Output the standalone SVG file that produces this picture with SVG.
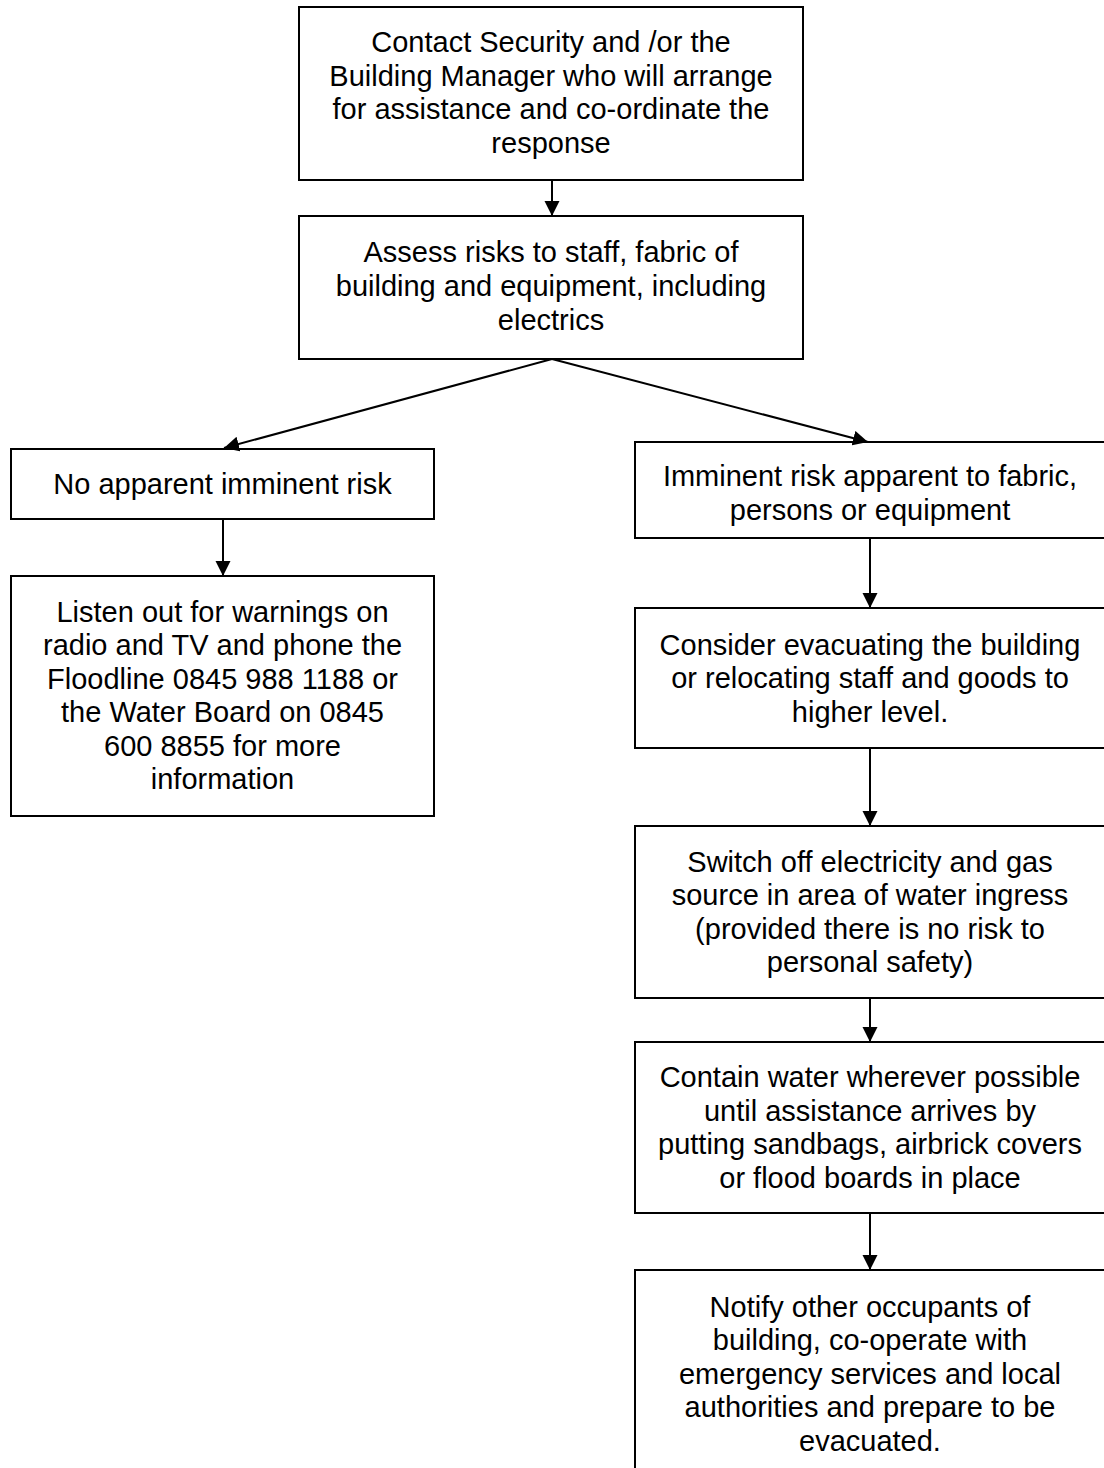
<svg xmlns="http://www.w3.org/2000/svg" width="1104" height="1468" viewBox="0 0 1104 1468">
<style>
.box{fill:#fff;stroke:#000;stroke-width:2}
.t{font-family:"Liberation Sans",Arial,sans-serif;font-size:29px;fill:#000;text-anchor:middle}
.c{stroke:#000;stroke-width:2;fill:none;marker-end:url(#ah)}
</style>
<defs>
<marker id="ah" markerUnits="userSpaceOnUse" markerWidth="16" markerHeight="16" refX="15" refY="7.5" orient="auto">
<path d="M0,0 L15,7.5 L0,15 z" fill="#000"/>
</marker>
</defs>
<rect width="1104" height="1468" fill="#fff"/>
<g id="n1">
<rect class="box" x="299" y="7" width="504" height="173"/>
<text class="t" x="551" y="52">Contact Security and /or the</text>
<text class="t" x="551" y="86">Building Manager who will arrange</text>
<text class="t" x="551" y="119">for assistance and co-ordinate the</text>
<text class="t" x="551" y="153">response</text>
</g>
<g id="n2">
<rect class="box" x="299" y="216" width="504" height="143"/>
<text class="t" x="551" y="262">Assess risks to staff, fabric of</text>
<text class="t" x="551" y="296">building and equipment, including</text>
<text class="t" x="551" y="330">electrics</text>
</g>
<g id="n3">
<rect class="box" x="11" y="449" width="423" height="70"/>
<text class="t" x="222.5" y="494">No apparent imminent risk</text>
</g>
<g id="n4">
<rect class="box" x="11" y="576" width="423" height="240"/>
<text class="t" x="222.5" y="622">Listen out for warnings on</text>
<text class="t" x="222.5" y="655">radio and TV and phone the</text>
<text class="t" x="222.5" y="689">Floodline 0845 988 1188 or</text>
<text class="t" x="222.5" y="722">the Water Board on 0845</text>
<text class="t" x="222.5" y="756">600 8855 for more</text>
<text class="t" x="222.5" y="789">information</text>
</g>
<g id="n5">
<rect class="box" x="635" y="442" width="470" height="96"/>
<text class="t" x="870" y="486">Imminent risk apparent to fabric,</text>
<text class="t" x="870" y="520">persons or equipment</text>
</g>
<g id="n6">
<rect class="box" x="635" y="608" width="470" height="140"/>
<text class="t" x="870" y="655">Consider evacuating the building</text>
<text class="t" x="870" y="688">or relocating staff and goods to</text>
<text class="t" x="870" y="722">higher level.</text>
</g>
<g id="n7">
<rect class="box" x="635" y="826" width="470" height="172"/>
<text class="t" x="870" y="872">Switch off electricity and gas</text>
<text class="t" x="870" y="905">source in area of water ingress</text>
<text class="t" x="870" y="939">(provided there is no risk to</text>
<text class="t" x="870" y="972">personal safety)</text>
</g>
<g id="n8">
<rect class="box" x="635" y="1042" width="470" height="171"/>
<text class="t" x="870" y="1087">Contain water wherever possible</text>
<text class="t" x="870" y="1121">until assistance arrives by</text>
<text class="t" x="870" y="1154">putting sandbags, airbrick covers</text>
<text class="t" x="870" y="1188">or flood boards in place</text>
</g>
<g id="n9">
<rect class="box" x="635" y="1270" width="470" height="210"/>
<text class="t" x="870" y="1317">Notify other occupants of</text>
<text class="t" x="870" y="1350">building, co-operate with</text>
<text class="t" x="870" y="1384">emergency services and local</text>
<text class="t" x="870" y="1417">authorities and prepare to be</text>
<text class="t" x="870" y="1451">evacuated.</text>
</g>
<g id="connectors">
<line class="c" x1="552" y1="180" x2="552" y2="216"/>
<line class="c" x1="552" y1="359" x2="224" y2="448"/>
<line class="c" x1="552" y1="359" x2="868" y2="442"/>
<line class="c" x1="223" y1="519" x2="223" y2="576"/>
<line class="c" x1="870" y1="538" x2="870" y2="608"/>
<line class="c" x1="870" y1="748" x2="870" y2="826"/>
<line class="c" x1="870" y1="998" x2="870" y2="1042"/>
<line class="c" x1="870" y1="1213" x2="870" y2="1270"/>
</g>
</svg>
